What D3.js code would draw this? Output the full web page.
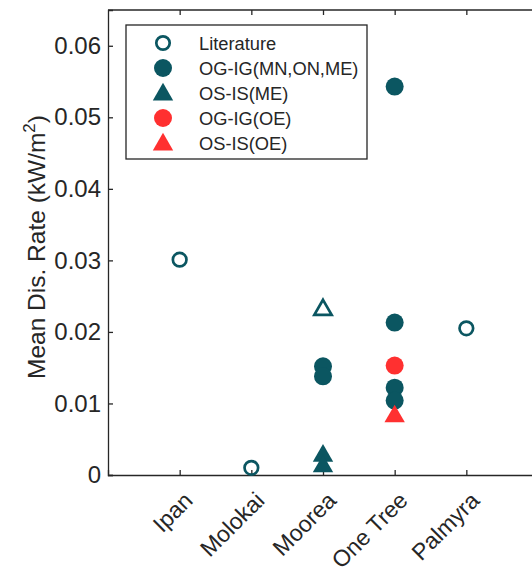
<!DOCTYPE html>
<html>
<head>
<meta charset="utf-8">
<script src="https://cdn.jsdelivr.net/npm/d3@7/dist/d3.min.js"></script>
<style>
  html, body { margin: 0; padding: 0; background: #fff; }
  svg { display: block; font-family: "Liberation Sans", Arial, sans-serif; }
</style>
</head>
<body>
<svg id="chart" width="532" height="574"></svg>
<script>
// Sites along the x axis
const sites = ["Ipan", "Molokai", "Moorea", "One Tree", "Palmyra"];

// Literature values (open circles), plus one open triangle at Moorea
const litSites = ["Ipan", "Molokai", "Palmyra"];
const litValues = [0.0301, 0.0010, 0.0205];
const litTriSites = ["Moorea"];
const litTriValues = [0.0233];

// OG-IG (MN, ON, ME): filled teal circles
const ogSites = ["Moorea", "Moorea", "One Tree", "One Tree", "One Tree", "One Tree"];
const ogValues = [0.0152, 0.0138, 0.0543, 0.0213, 0.0122, 0.0104];

// OS-IS (ME): filled teal triangles
const osSites = ["Moorea", "Moorea"];
const osValues = [0.0029, 0.0014];

// OG-IG (OE) and OS-IS (OE): red markers
const ogOeSites = ["One Tree"];
const ogOeValues = [0.0153];
const osOeSites = ["One Tree"];
const osOeValues = [0.0084];

const yTicks = [0, 0.01, 0.02, 0.03, 0.04, 0.05, 0.06];
const yTickLabels = ["0", "0.01", "0.02", "0.03", "0.04", "0.05", "0.06"];

const legendLabels = ["Literature", "OG-IG(MN,ON,ME)", "OS-IS(ME)", "OG-IG(OE)", "OS-IS(OE)"];

const teal = "#0b5661";
const red = "#ff3030";
const ink = "#262626";
const fontFam = "Liberation Sans, Arial, sans-serif";

const svg = d3.select("#chart");
const pLeft = 108, pTop = 10, pBottom = 475, pRight = 538;

const x = d3.scaleLinear().domain([0, sites.length + 1]).range([pLeft, pRight]);
const xPos = s => x(sites.indexOf(s) + 1);
const y = d3.scaleLinear().domain([0, 0.065]).range([pBottom, pTop]);

// Box frame (top edge; right edge falls outside the view)
svg.append("line").attr("x1", pLeft).attr("x2", pRight).attr("y1", pTop).attr("y2", pTop)
  .attr("stroke", ink).attr("stroke-width", 1.3);

// Y axis with inward ticks
const yAxis = d3.axisLeft(y).tickValues(yTicks).tickSize(-5).tickPadding(7)
  .tickFormat((d, i) => yTickLabels[i]);
const gy = svg.append("g").attr("transform", `translate(${pLeft},0)`).call(yAxis);
gy.select(".domain").attr("stroke", ink).attr("stroke-width", 1.3);
gy.selectAll(".tick line").attr("stroke", ink).attr("stroke-width", 1.3);
gy.selectAll(".tick text").attr("fill", ink).style("font-size", "24px")
  .style("font-family", fontFam);

// X axis with inward ticks and rotated labels
const xAxis = d3.axisBottom(x).tickValues(sites.map((s, i) => i + 1)).tickSize(-5)
  .tickFormat((d) => sites[d - 1]);
const gx = svg.append("g").attr("transform", `translate(0,${pBottom})`).call(xAxis);
gx.select(".domain").attr("stroke", ink).attr("stroke-width", 1.3);
gx.selectAll(".tick line").attr("stroke", ink).attr("stroke-width", 1.3);
gx.selectAll(".tick text").attr("fill", ink).style("font-size", "23px")
  .style("font-family", fontFam)
  .attr("text-anchor", "end").attr("dy", null).attr("y", 0)
  .attr("transform", "translate(14,27) rotate(-45)");

// Top axis ticks (inward)
const xTop = d3.axisTop(x).tickValues(sites.map((s, i) => i + 1)).tickSize(-5).tickFormat("");
const gt = svg.append("g").attr("transform", `translate(0,${pTop})`).call(xTop);
gt.select(".domain").remove();
gt.selectAll(".tick line").attr("stroke", ink).attr("stroke-width", 1.3);

// Y axis title
const yt = svg.append("text")
  .attr("transform", `translate(45,247) rotate(-90)`)
  .attr("text-anchor", "middle").attr("fill", ink).style("font-size", "24.5px");
yt.append("tspan").text("Mean Dis. Rate (kW/m");
yt.append("tspan").attr("dy", -10).style("font-size", "17px").text("2");
yt.append("tspan").attr("dy", 10).text(")");

// Marker helpers
const circleR = 9;
const tri = d3.symbol().type(d3.symbolTriangle).size(180);

function circles(sitesArr, vals, fill, stroke, sw) {
  svg.append("g").selectAll("circle").data(vals).join("circle")
    .attr("cx", (d, i) => xPos(sitesArr[i])).attr("cy", d => y(d))
    .attr("r", stroke ? 6.8 : circleR)
    .attr("fill", fill).attr("stroke", stroke || "none").attr("stroke-width", sw || 0);
}
function triangles(sitesArr, vals, fill, stroke, sw) {
  svg.append("g").selectAll("path").data(vals).join("path")
    .attr("d", stroke ? d3.symbol().type(d3.symbolTriangle).size(130)() : tri())
    .attr("transform", (d, i) => `translate(${xPos(sitesArr[i])},${y(d) + 1.5})`)
    .attr("fill", fill).attr("stroke", stroke || "none").attr("stroke-width", sw || 0)
    .attr("stroke-linejoin", "miter");
}

circles(litSites, litValues, "none", teal, 2.7);
triangles(litTriSites, litTriValues, "none", teal, 2.7);
circles(ogSites, ogValues, teal);
triangles(osSites, osValues, teal);
circles(ogOeSites, ogOeValues, red);
triangles(osOeSites, osOeValues, red);

// Legend
const lg = svg.append("g");
lg.append("rect").attr("x", 126).attr("y", 25).attr("width", 241).attr("height", 134)
  .attr("fill", "#fff").attr("stroke", ink).attr("stroke-width", 1.3);
const rowY = i => 43 + i * 25;
const mx = 163;
lg.append("circle").attr("cx", mx).attr("cy", rowY(0)).attr("r", 6.7).attr("fill", "none")
  .attr("stroke", teal).attr("stroke-width", 2.7);
lg.append("circle").attr("cx", mx).attr("cy", rowY(1)).attr("r", 9).attr("fill", teal);
lg.append("path").attr("d", tri).attr("transform", `translate(${mx},${rowY(2) + 1.5})`).attr("fill", teal);
lg.append("circle").attr("cx", mx).attr("cy", rowY(3)).attr("r", 9).attr("fill", red);
lg.append("path").attr("d", tri).attr("transform", `translate(${mx},${rowY(4) + 1.5})`).attr("fill", red);
lg.selectAll("text.lab").data(legendLabels).join("text").attr("class", "lab")
  .attr("x", 199).attr("y", (d, i) => rowY(i) + 6.5)
  .attr("fill", ink).style("font-size", "18.3px").style("font-family", fontFam).text(d => d);
</script>
</body>
</html>
